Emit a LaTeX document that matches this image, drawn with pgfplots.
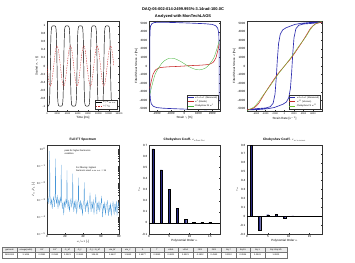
\documentclass[border=0pt]{standalone}
\usepackage{pgfplots}
\pgfplotsset{compat=1.18}
\usepackage{fontspec}
\setmainfont{Liberation Sans}
\definecolor{mblue}{RGB}{45,45,175}
\definecolor{mred}{RGB}{200,40,40}
\definecolor{mgreen}{RGB}{70,180,60}
\definecolor{mlblue}{RGB}{70,150,215}
\definecolor{mbar}{RGB}{40,40,130}
\pgfplotsset{
  every axis/.append style={
    scale only axis, anchor=south west,
    /pgf/number format/assume math mode=true,
    /pgf/number format/1000 sep={},
    scaled ticks=false,
    tick label style={font=\fontsize{6}{7}\selectfont},
    label style={font=\fontsize{6}{7}\selectfont},
    title style={font=\bfseries\fontsize{6.5}{7}\selectfont, yshift=-2pt},
    major tick length=2.5pt,
    axis line style={black!80, line width=0.4pt},
    every tick/.style={black!80, line width=0.4pt},
    legend style={font=\fontsize{4.5}{5}\selectfont, at={(0.98,0.02)}, anchor=south east,
      inner sep=1pt, row sep=-1.5pt, draw=black!80, line width=0.3pt},
    legend cell align=left,
    legend image code/.code={\draw[#1] (0pt,0pt) -- (12pt,0pt);},
    ylabel shift=-3pt, xlabel shift=-3pt,
  }
}
\newcommand\cell[4]{%
  \fill[black!8] ({#1*2pt},22pt) rectangle ({#2*2pt},32pt);
  \draw[black!55, line width=0.3pt] ({#1*2pt},10pt) rectangle ({#2*2pt},32pt);
  \draw[black!55, line width=0.3pt] ({#1*2pt},22pt) -- ({#2*2pt},22pt);
  \node[font=\fontsize{4.3}{5}\selectfont] at ({(#1+#2)*1pt},27pt) {#3};
  \node[font=\fontsize{4.3}{5}\selectfont] at ({(#1+#2)*1pt},16pt) {#4};}
\begin{document}
\begin{tikzpicture}
\path (0,0) rectangle (710pt,526pt);
\node[font=\bfseries\fontsize{8}{9}\selectfont] at (366pt,508pt) {DAQ-06-002-014-2499.993\%-3.14rad-100.0C};
\node[font=\bfseries\fontsize{8}{9}\selectfont] at (366pt,494pt) {Analyzed with MonTechLAOS};

% ---------- Panel 1: time signals
\begin{axis}[at={(94pt,304pt)}, width=144pt, height=180pt,
  xmin=0, xmax=14000, ymin=-1.12, ymax=1.12,
  xtick={0,2000,4000,6000,8000,10000,12000,14000},
  ytick={-1,-0.8,-0.6,-0.4,-0.2,0,0.2,0.4,0.6,0.8,1},
  xticklabel style={font=\fontsize{4.8}{5}\selectfont},
  xlabel={Time [ms]}, ylabel={Scaled $\sigma$, $\gamma$ [-]}]
\addplot[black, line width=0.9pt] coordinates {
(0,-1) (260,-0.995) (390,-0.970) (455,-0.922) (520,-0.796) (585,-0.499) (650,0) (715,0.499) (780,0.796) (845,0.922) (910,0.970) (1040,0.995) (1300,1) (1560,0.995) (1690,0.970) (1755,0.922) (1820,0.796) (1885,0.499) (1950,0) (2015,-0.499) (2080,-0.796) (2145,-0.922) (2210,-0.970) (2340,-0.995) (2600,-1)
(2860,-0.995) (2990,-0.970) (3055,-0.922) (3120,-0.796) (3185,-0.499) (3250,0) (3315,0.499) (3380,0.796) (3445,0.922) (3510,0.970) (3640,0.995) (3900,1) (4160,0.995) (4290,0.970) (4355,0.922) (4420,0.796) (4485,0.499) (4550,0) (4615,-0.499) (4680,-0.796) (4745,-0.922) (4810,-0.970) (4940,-0.995) (5200,-1)
(5460,-0.995) (5590,-0.970) (5655,-0.922) (5720,-0.796) (5785,-0.499) (5850,0) (5915,0.499) (5980,0.796) (6045,0.922) (6110,0.970) (6240,0.995) (6500,1) (6760,0.995) (6890,0.970) (6955,0.922) (7020,0.796) (7085,0.499) (7150,0) (7215,-0.499) (7280,-0.796) (7345,-0.922) (7410,-0.970) (7540,-0.995) (7800,-1)
(8060,-0.995) (8190,-0.970) (8255,-0.922) (8320,-0.796) (8385,-0.499) (8450,0) (8515,0.499) (8580,0.796) (8645,0.922) (8710,0.970) (8840,0.995) (9100,1) (9360,0.995) (9490,0.970) (9555,0.922) (9620,0.796) (9685,0.499) (9750,0) (9815,-0.499) (9880,-0.796) (9945,-0.922) (10010,-0.970) (10140,-0.995) (10400,-1)
(10660,-0.995) (10790,-0.970) (10855,-0.922) (10920,-0.796) (10985,-0.499) (11050,0) (11115,0.499) (11180,0.796) (11245,0.922) (11310,0.970) (11440,0.995) (11700,1) (11960,0.995) (12090,0.970) (12155,0.922) (12220,0.796) (12285,0.499) (12350,0) (12415,-0.499) (12480,-0.796) (12545,-0.922) (12610,-0.970) (12740,-0.995) (13000,-1)};
\addlegendentry{$\sigma/\sigma_{max}$}
\addplot[mred, densely dashed, line width=0.7pt, smooth] coordinates {
(0,0) (216.7,-0.25) (433.3,-0.433) (650,-0.5) (866.7,-0.433) (1083.3,-0.25) (1300,0) (1516.7,0.25) (1733.3,0.433) (1950,0.5) (2166.7,0.433) (2383.3,0.25)
(2600,0) (2816.7,-0.25) (3033.3,-0.433) (3250,-0.5) (3466.7,-0.433) (3683.3,-0.25) (3900,0) (4116.7,0.25) (4333.3,0.433) (4550,0.5) (4766.7,0.433) (4983.3,0.25)
(5200,0) (5416.7,-0.25) (5633.3,-0.433) (5850,-0.5) (6066.7,-0.433) (6283.3,-0.25) (6500,0) (6716.7,0.25) (6933.3,0.433) (7150,0.5) (7366.7,0.433) (7583.3,0.25)
(7800,0) (8016.7,-0.25) (8233.3,-0.433) (8450,-0.5) (8666.7,-0.433) (8883.3,-0.25) (9100,0) (9316.7,0.25) (9533.3,0.433) (9750,0.5) (9966.7,0.433) (10183.3,0.25)
(10400,0) (10616.7,-0.25) (10833.3,-0.433) (11050,-0.5) (11266.7,-0.433) (11483.3,-0.25) (11700,0) (11916.7,0.25) (12133.3,0.433) (12350,0.5) (12566.7,0.433) (12783.3,0.25) (13000,0)};
\addlegendentry{$\gamma/\gamma_0$}
\end{axis}

% ---------- Panel 2: elastic Lissajous
\begin{axis}[at={(298pt,304pt)}, width=142pt, height=180pt,
  xmin=-2560, xmax=2560, ymin=-5250, ymax=5250,
  xtick={-2000,-1000,0,1000,2000},
  ytick={-5000,-4000,-3000,-2000,-1000,0,1000,2000,3000,4000,5000},
  xlabel={Strain $\gamma$ [\%]}, ylabel={Fitted Shear Stress $\sigma$ [Pa]}]
\addplot[mblue, line width=1.3pt] coordinates {
(-2500,0) (-2500,2500) (-2490,4000) (-2450,4650) (-2350,4950) (-2150,5080) (-1500,5100) (-500,5060) (500,5000) (1500,4930) (2000,4850) (2250,4700) (2400,4400) (2470,3800) (2495,2500) (2500,0)
(2500,-2500) (2490,-4000) (2450,-4650) (2350,-4950) (2150,-5080) (1500,-5100) (500,-5060) (-500,-5000) (-1500,-4930) (-2000,-4850) (-2250,-4700) (-2400,-4400) (-2470,-3800) (-2495,-2500) (-2500,0)};
\addlegendentry{$\sigma_{total}$ (Measured)}
\addplot[mred, line width=1.1pt, smooth] coordinates {
(-2500,-2600) (-2400,-1800) (-2250,-900) (-2050,-400) (-1800,-200) (-1200,-100) (-500,-50) (0,0) (500,50) (1200,100) (1800,200) (2050,400) (2250,900) (2400,1800) (2500,2600)};
\addlegendentry{$\sigma'$ (Elastic)}
\addplot[mgreen, line width=0.7pt, smooth] coordinates {
(-2500,-3300) (-2300,-2000) (-2100,-900) (-1800,-50) (-1500,550) (-1100,900) (-700,850) (-300,550) (0,250) (300,-50) (700,-350) (1100,-450) (1500,-250) (1800,200) (2100,900) (2300,1800) (2500,2900)};
\addlegendentry{Chebyshev Fit $\sigma'$}
\end{axis}

% ---------- Panel 3: viscous Lissajous
\begin{axis}[at={(494pt,304pt)}, width=150pt, height=180pt,
  xmin=-7900, xmax=7900, ymin=-5250, ymax=5250,
  xtick={-6000,-4000,-2000,0,2000,4000,6000},
  xticklabel style={font=\fontsize{4.8}{5}\selectfont},
  ytick={-5000,-4000,-3000,-2000,-1000,0,1000,2000,3000,4000,5000},
  xlabel={Strain Rate [s$^{-1}$]}, ylabel={Fitted Shear Stress $\sigma$ [Pa]}]
\addplot[mblue, line width=1.3pt] coordinates {
(-7850,-5100) (-6000,-4980) (-4000,-4900) (-3000,-4750) (-2400,-4350) (-2000,-3300) (-1750,-1500) (-1500,800) (-1250,2600) (-900,3700) (-400,4200) (300,4450) (1200,4650) (2200,4850) (3500,4980) (5000,5060) (6500,5100) (7850,5100)
(6000,4980) (4000,4900) (3000,4750) (2400,4350) (2000,3300) (1750,1500) (1500,-800) (1250,-2600) (900,-3700) (400,-4200) (-300,-4450) (-1200,-4650) (-2200,-4850) (-3500,-4980) (-5000,-5060) (-6500,-5100) (-7850,-5100)};
\addlegendentry{$\sigma_{total}$ (Measured)}
\addplot[mred, line width=1.1pt, smooth] coordinates {
(-7850,-5100) (-6500,-4900) (-5500,-4400) (-4500,-3500) (-3000,-2200) (-1500,-1000) (0,0) (1500,1000) (3000,2200) (4500,3500) (5500,4400) (6500,4900) (7850,5100)};
\addlegendentry{$\sigma''$ (Viscous)}
\addplot[mgreen!80!yellow, line width=0.7pt, smooth] coordinates {
(-7850,-5200) (-6500,-4800) (-5500,-4200) (-4500,-3400) (-3000,-2300) (-1500,-1100) (0,0) (1500,1100) (3000,2300) (4500,3400) (5500,4300) (6500,4900) (7850,5200)};
\addlegendentry{Chebyshev Fit $\sigma''$}
\end{axis}

% ---------- Panel 4: FT spectrum
\begin{axis}[at={(94pt,58pt)}, width=144pt, height=178pt,
  ymode=log, xmin=0, xmax=80, ymin=1e-5, ymax=1.78,
  xtick={0,20,40,60,80}, ytick={1e-5,1e-4,1e-3,1e-2,1e-1,1},
  title={Full FT Spectrum},
  xlabel={$\omega/\omega_1$ [-]}, ylabel={$I_n/I_1$ [-]}]
\addplot[mlblue, line width=0.5pt] coordinates {
(0.5,8e-4) (1.2,1.5e-3) (2,6e-4) (2.6,2e-3) (3,0.8) (3.4,1.8e-3) (4.2,5e-4) (5,1.2e-3) (5.8,3e-4) (6.6,9e-4) (7.4,1.5e-3) (8.2,4e-4) (9,1.6e-3) (9.4,0.28) (9.8,1.5e-3) (10.6,6e-4) (11.4,2e-3) (12.2,3e-4) (13,1.1e-3) (13.8,5e-4) (14.6,1.4e-3) (15.4,7e-4) (15.8,0.12) (16.2,1.2e-3) (17,3e-4) (17.8,8e-4) (18.6,1.3e-4) (19.4,9e-4) (20.2,4e-4) (21,1.1e-3) (21.8,6e-4) (22.2,5.7e-2) (22.6,9e-4) (23.4,3e-4) (24.2,1e-3) (25,2e-4) (25.8,7e-4) (26.6,1.2e-3) (27.4,4e-4) (28.2,8e-4) (28.6,3.7e-2) (29,7e-4) (29.8,2e-4) (30.6,9e-4) (31.4,3e-4) (32.2,1.1e-3) (33,1.5e-4) (33.8,6e-4) (34.6,1e-3) (35,2.1e-2) (35.4,8e-4) (36.2,3e-4) (37,1e-3) (37.8,2.5e-4) (38.6,7e-4) (39.4,1.2e-4) (40.2,6e-4) (41,9e-4) (41.4,1.1e-2) (41.8,8e-4) (42.6,2e-4) (43.4,7e-4) (44.2,4e-4) (45,1e-3) (45.8,1.5e-4) (46.6,6e-4) (47.4,9e-4) (47.8,2.8e-3) (48.2,7e-4) (49,2e-4) (49.8,8e-4) (50.6,3e-4) (51.4,1.1e-3) (52.2,1.4e-4) (53,6e-4) (53.8,8e-4) (54.2,2.2e-3) (54.6,6e-4) (55.4,1.5e-4) (56.2,7e-4) (57,3e-4) (57.8,9e-4) (58.6,2e-4) (59.4,6e-4) (60.2,7e-4) (60.6,1.8e-3) (61,5e-4) (61.8,1e-4) (62.6,6e-4) (63.4,2.5e-4) (64.2,8e-4) (65,1.3e-4) (65.8,5e-4) (66.6,6e-4) (67,1e-3) (67.4,4e-4) (68.2,1.2e-4) (69,5e-4) (69.8,2e-4) (70.6,7e-4) (71.4,1.1e-4) (72.2,4e-4) (73,5e-4) (73.4,9e-4) (73.8,3e-4) (74.6,1.5e-4) (75.4,6e-4) (76.2,2e-4) (77,9e-4) (77.8,1.2e-4) (78.6,4e-4) (79.4,7e-4) (80,3e-4)};
\node[font=\fontsize{4.5}{5}\selectfont, align=left, anchor=north west] at (rel axis cs:0.22,0.96) {peak for higher harmonics\\condition};
\node[font=\fontsize{4.5}{5}\selectfont, align=left, anchor=north west] at (rel axis cs:0.38,0.77) {For filtering: highest\\harmonic used $n_{max}$ = 15};
\end{axis}

% ---------- Panel 5: elastic Chebyshev coefficients
\begin{axis}[at={(298pt,58pt)}, width=142pt, height=178pt,
  xmin=0, xmax=17.5, ymin=-0.1, ymax=0.7,
  xtick={0,5,10,15}, ytick={-0.1,0,0.1,0.2,0.3,0.4,0.5,0.6,0.7},
  title={Chebyshev Coeff. $e_{elastic}$},
  xlabel={Polynomial Order $n$}, ylabel={$e_n$}]
\addplot[ybar, bar width=0.55, fill=mbar, draw=black, line width=0.3pt] coordinates {
(1,0.665) (3,0.476) (5,0.303) (7,0.13) (9,0.03) (11,0.006) (13,0.003) (15,0.003)};
\addplot[black, line width=0.4pt] coordinates {(0,0) (17.5,0)};
\end{axis}

% ---------- Panel 6: viscous Chebyshev coefficients
\begin{axis}[at={(494pt,58pt)}, width=150pt, height=178pt,
  xmin=0, xmax=18, ymin=-0.2, ymax=0.8,
  xtick={0,5,10,15}, ytick={-0.2,-0.1,0,0.1,0.2,0.3,0.4,0.5,0.6,0.7,0.8},
  title={Chebyshev Coeff. $v_{viscous}$},
  xlabel={Polynomial Order $n$}, ylabel={$v_n$}]
\addplot[ybar, bar width=0.55, fill=mbar, draw=black, line width=0.3pt] coordinates {
(1,0.795) (3,-0.155) (5,0.018) (7,0.022) (9,-0.022) (11,0.004) (13,0.001) (15,0.001)};
\addplot[black, line width=0.4pt] coordinates {(0,0) (18,0)};
\end{axis}

% ---------- bottom table
\cell{2}{17}{gamma0}{2499.993}
\cell{17}{35}{omega(rad/s)}{3.1416}
\cell{35}{49}{G1'}{0.0381}
\cell{49}{61}{G1''}{2.0142}
\cell{61}{74}{G\_M'}{0.0021}
\cell{74}{86}{G\_L'}{0.2643}
\cell{86}{104}{G\_L'-G\_M'}{126.23}
\cell{104}{121}{eta\_M'}{0.6447}
\cell{121}{135}{eta\_L'}{1.5843}
\cell{135}{150}{S}{2.4577}
\cell{150}{164}{T}{0.9990}
\cell{164}{178}{e3/e1}{0.6001}
\cell{178}{193}{v3/v1}{0.5321}
\cell{193}{207}{I3/I1}{-0.1812}
\cell{207}{221}{I5/I1}{0.4163}
\cell{221}{236}{Eq.7}{0.2110}
\cell{236}{250}{Eq.15}{0.0534}
\cell{250}{265}{Eq.1}{0.0341}
\cell{265}{287}{Eq.1 Eq.3/5}{1.0000}
\end{tikzpicture}
\end{document}
